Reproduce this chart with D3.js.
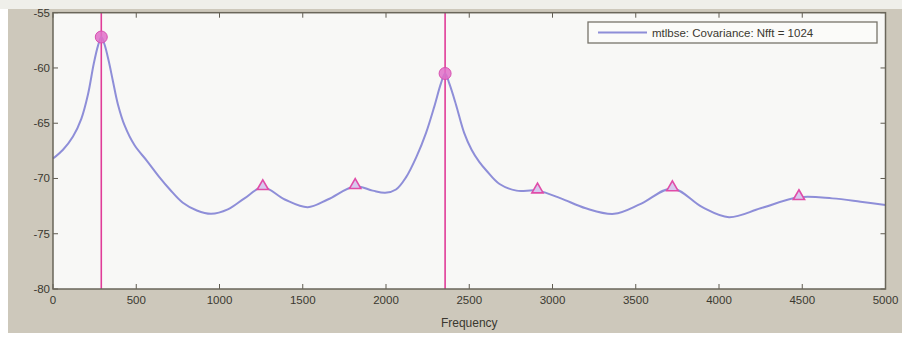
<!DOCTYPE html>
<html>
<head>
<meta charset="utf-8">
<script src="https://cdn.jsdelivr.net/npm/d3@7"></script>
<style>
  body { margin: 0; background: #ffffff; }
  svg { display: block; font-family: "Liberation Sans", Arial, sans-serif; }
</style>
</head>
<body>
<div id="chart-area"></div>
<script>
const WIDTH = 902;
const HEIGHT = 337;
const margin = {left: 53, right: 16, top: 12.7, bottom: 48};

// spectrum (Hz, dB)
const freq = [0, 60, 120, 170, 210, 245, 270, 290, 310, 335, 360, 390, 430, 490, 564, 640, 702, 780,
  864, 950, 1050, 1150, 1260, 1392, 1530, 1650, 1815, 1920, 1995, 2060, 2120, 2184, 2240, 2290,
  2330, 2355, 2380, 2420, 2470, 2514, 2560, 2604, 2682, 2784, 2910, 3050, 3200, 3370, 3530, 3720,
  3900, 4060, 4250, 4480, 4680, 4850, 5000];
const psd = [-68.2, -67.4, -66.2, -64.6, -62.4, -59.6, -58.0, -57.2, -57.9, -59.4, -61.2, -63.3,
  -65.2, -67.0, -68.4, -69.9, -71.0, -72.2, -72.9, -73.2, -72.8, -71.8, -70.8, -71.9, -72.6, -71.9,
  -70.7, -71.1, -71.3, -71.0, -69.9, -68.0, -65.9, -63.5, -61.4, -60.5, -61.4, -63.3, -65.9, -67.4,
  -68.5, -69.3, -70.5, -71.1, -71.1, -71.8, -72.7, -73.2, -72.3, -70.9, -72.6, -73.5, -72.7, -71.7,
  -71.8, -72.1, -72.4];

// main peaks (circles + vertical lines)
const peakFreq = [290, 2355];
const peakVal = [-57.2, -60.5];

// secondary peaks (triangles)
const triFreq = [1260, 1815, 2910, 3720, 4480];
const triVal = [-70.8, -70.7, -71.1, -70.9, -71.7];

const xTicks = [0, 500, 1000, 1500, 2000, 2500, 3000, 3500, 4000, 4500, 5000];
const yTicks = [-80, -75, -70, -65, -60, -55];
const legendText = "mtlbse: Covariance: Nfft = 1024";

const x = d3.scaleLinear().domain([0, 5000]).range([margin.left, WIDTH - margin.right - 0.5]);
const y = d3.scaleLinear().domain([-80, -55]).range([HEIGHT - margin.bottom, margin.top]);

const svg = d3.select('#chart-area').append('svg')
    .attr("width", WIDTH)
    .attr("height", HEIGHT);

// figure background
svg.append("rect")
    .attr("x", 8).attr("y", 0)
    .attr("width", WIDTH - 8).attr("height", 333)
    .attr("fill", "#cdc8bb");

// axes box
svg.append("rect")
    .attr("x", x(0)).attr("y", y(-55))
    .attr("width", x(5000) - x(0)).attr("height", y(-80) - y(-55))
    .attr("fill", "#f8f8f6");

const tickColor = "#5f5b50";
const tickLen = 5;

// x ticks, bottom and top, pointing in
const xt = svg.append("g");
xTicks.forEach(t => {
    xt.append("line").attr("x1", x(t)).attr("x2", x(t))
        .attr("y1", y(-80)).attr("y2", y(-80) - tickLen)
        .attr("stroke", tickColor);
    xt.append("line").attr("x1", x(t)).attr("x2", x(t))
        .attr("y1", y(-55)).attr("y2", y(-55) + tickLen)
        .attr("stroke", tickColor);
    xt.append("text")
        .attr("x", x(t)).attr("y", y(-80) + 15)
        .attr("text-anchor", "middle")
        .attr("font-size", 11.5)
        .attr("fill", "#3a3830")
        .text(t);
});

const yt = svg.append("g");
yTicks.forEach(t => {
    yt.append("line").attr("x1", x(0)).attr("x2", x(0) + tickLen)
        .attr("y1", y(t)).attr("y2", y(t))
        .attr("stroke", tickColor);
    yt.append("line").attr("x1", x(5000)).attr("x2", x(5000) - tickLen)
        .attr("y1", y(t)).attr("y2", y(t))
        .attr("stroke", tickColor);
    yt.append("text")
        .attr("x", x(0) - 3).attr("y", y(t) + 4)
        .attr("text-anchor", "end")
        .attr("font-size", 11.5)
        .attr("fill", "#3a3830")
        .text(t);
});

svg.append("text")
    .attr("x", (x(0) + x(5000)) / 2).attr("y", 327)
    .attr("text-anchor", "middle")
    .attr("font-size", 12)
    .attr("fill", "#3a3830")
    .text("Frequency");

// vertical markers at the main peaks
svg.append("g")
    .selectAll("line")
    .data(peakFreq)
    .join("line")
    .attr("x1", d => x(d)).attr("x2", d => x(d))
    .attr("y1", y(-55)).attr("y2", y(-80))
    .attr("stroke", "#e03c98")
    .attr("stroke-width", 1.6);

// spectrum curve
const line = d3.line()
    .x((d, i) => x(freq[i]))
    .y(d => y(d))
    .curve(d3.curveCatmullRom.alpha(0.5));

svg.append("path")
    .datum(psd)
    .attr("fill", "none")
    .attr("stroke", "#8e8ed8")
    .attr("stroke-width", 2)
    .attr("d", line);

// circles at main peaks
svg.append("g")
    .selectAll("circle")
    .data(peakFreq)
    .join("circle")
    .attr("cx", d => x(d))
    .attr("cy", (d, i) => y(peakVal[i]))
    .attr("r", 6)
    .attr("fill", "#e070c8")
    .attr("fill-opacity", 0.85)
    .attr("stroke", "#d850b0")
    .attr("stroke-width", 1);

// triangles at secondary peaks
const tri = d3.symbol().type(d3.symbolTriangle).size(55);
svg.append("g")
    .selectAll("path")
    .data(triFreq)
    .join("path")
    .attr("transform", (d, i) => `translate(${x(d)},${y(triVal[i]) - 1})`)
    .attr("d", tri)
    .attr("fill", "#d8c8ee")
    .attr("stroke", "#e04ca8")
    .attr("stroke-width", 1.6);

// axes border
svg.append("rect")
    .attr("x", x(0)).attr("y", y(-55))
    .attr("width", x(5000) - x(0)).attr("height", y(-80) - y(-55))
    .attr("fill", "none")
    .attr("stroke", "#6a665a")
    .attr("stroke-width", 1.5);

// legend
const lg = svg.append("g");
lg.append("rect")
    .attr("x", 588).attr("y", 22)
    .attr("width", 289).attr("height", 21)
    .attr("fill", "#fbfbf9")
    .attr("stroke", "#77736a")
    .attr("stroke-width", 1.3);
lg.append("line")
    .attr("x1", 598).attr("x2", 647)
    .attr("y1", 32.5).attr("y2", 32.5)
    .attr("stroke", "#8e8ed8")
    .attr("stroke-width", 2);
lg.append("text")
    .attr("x", 652).attr("y", 37)
    .attr("font-size", 11.5)
    .attr("fill", "#3a3830")
    .text(legendText);

// pale strip at the top edge of the scan
svg.append("rect")
    .attr("x", 0).attr("y", 0)
    .attr("width", WIDTH).attr("height", 9)
    .attr("fill", "#efefea");
</script>
</body>
</html>
